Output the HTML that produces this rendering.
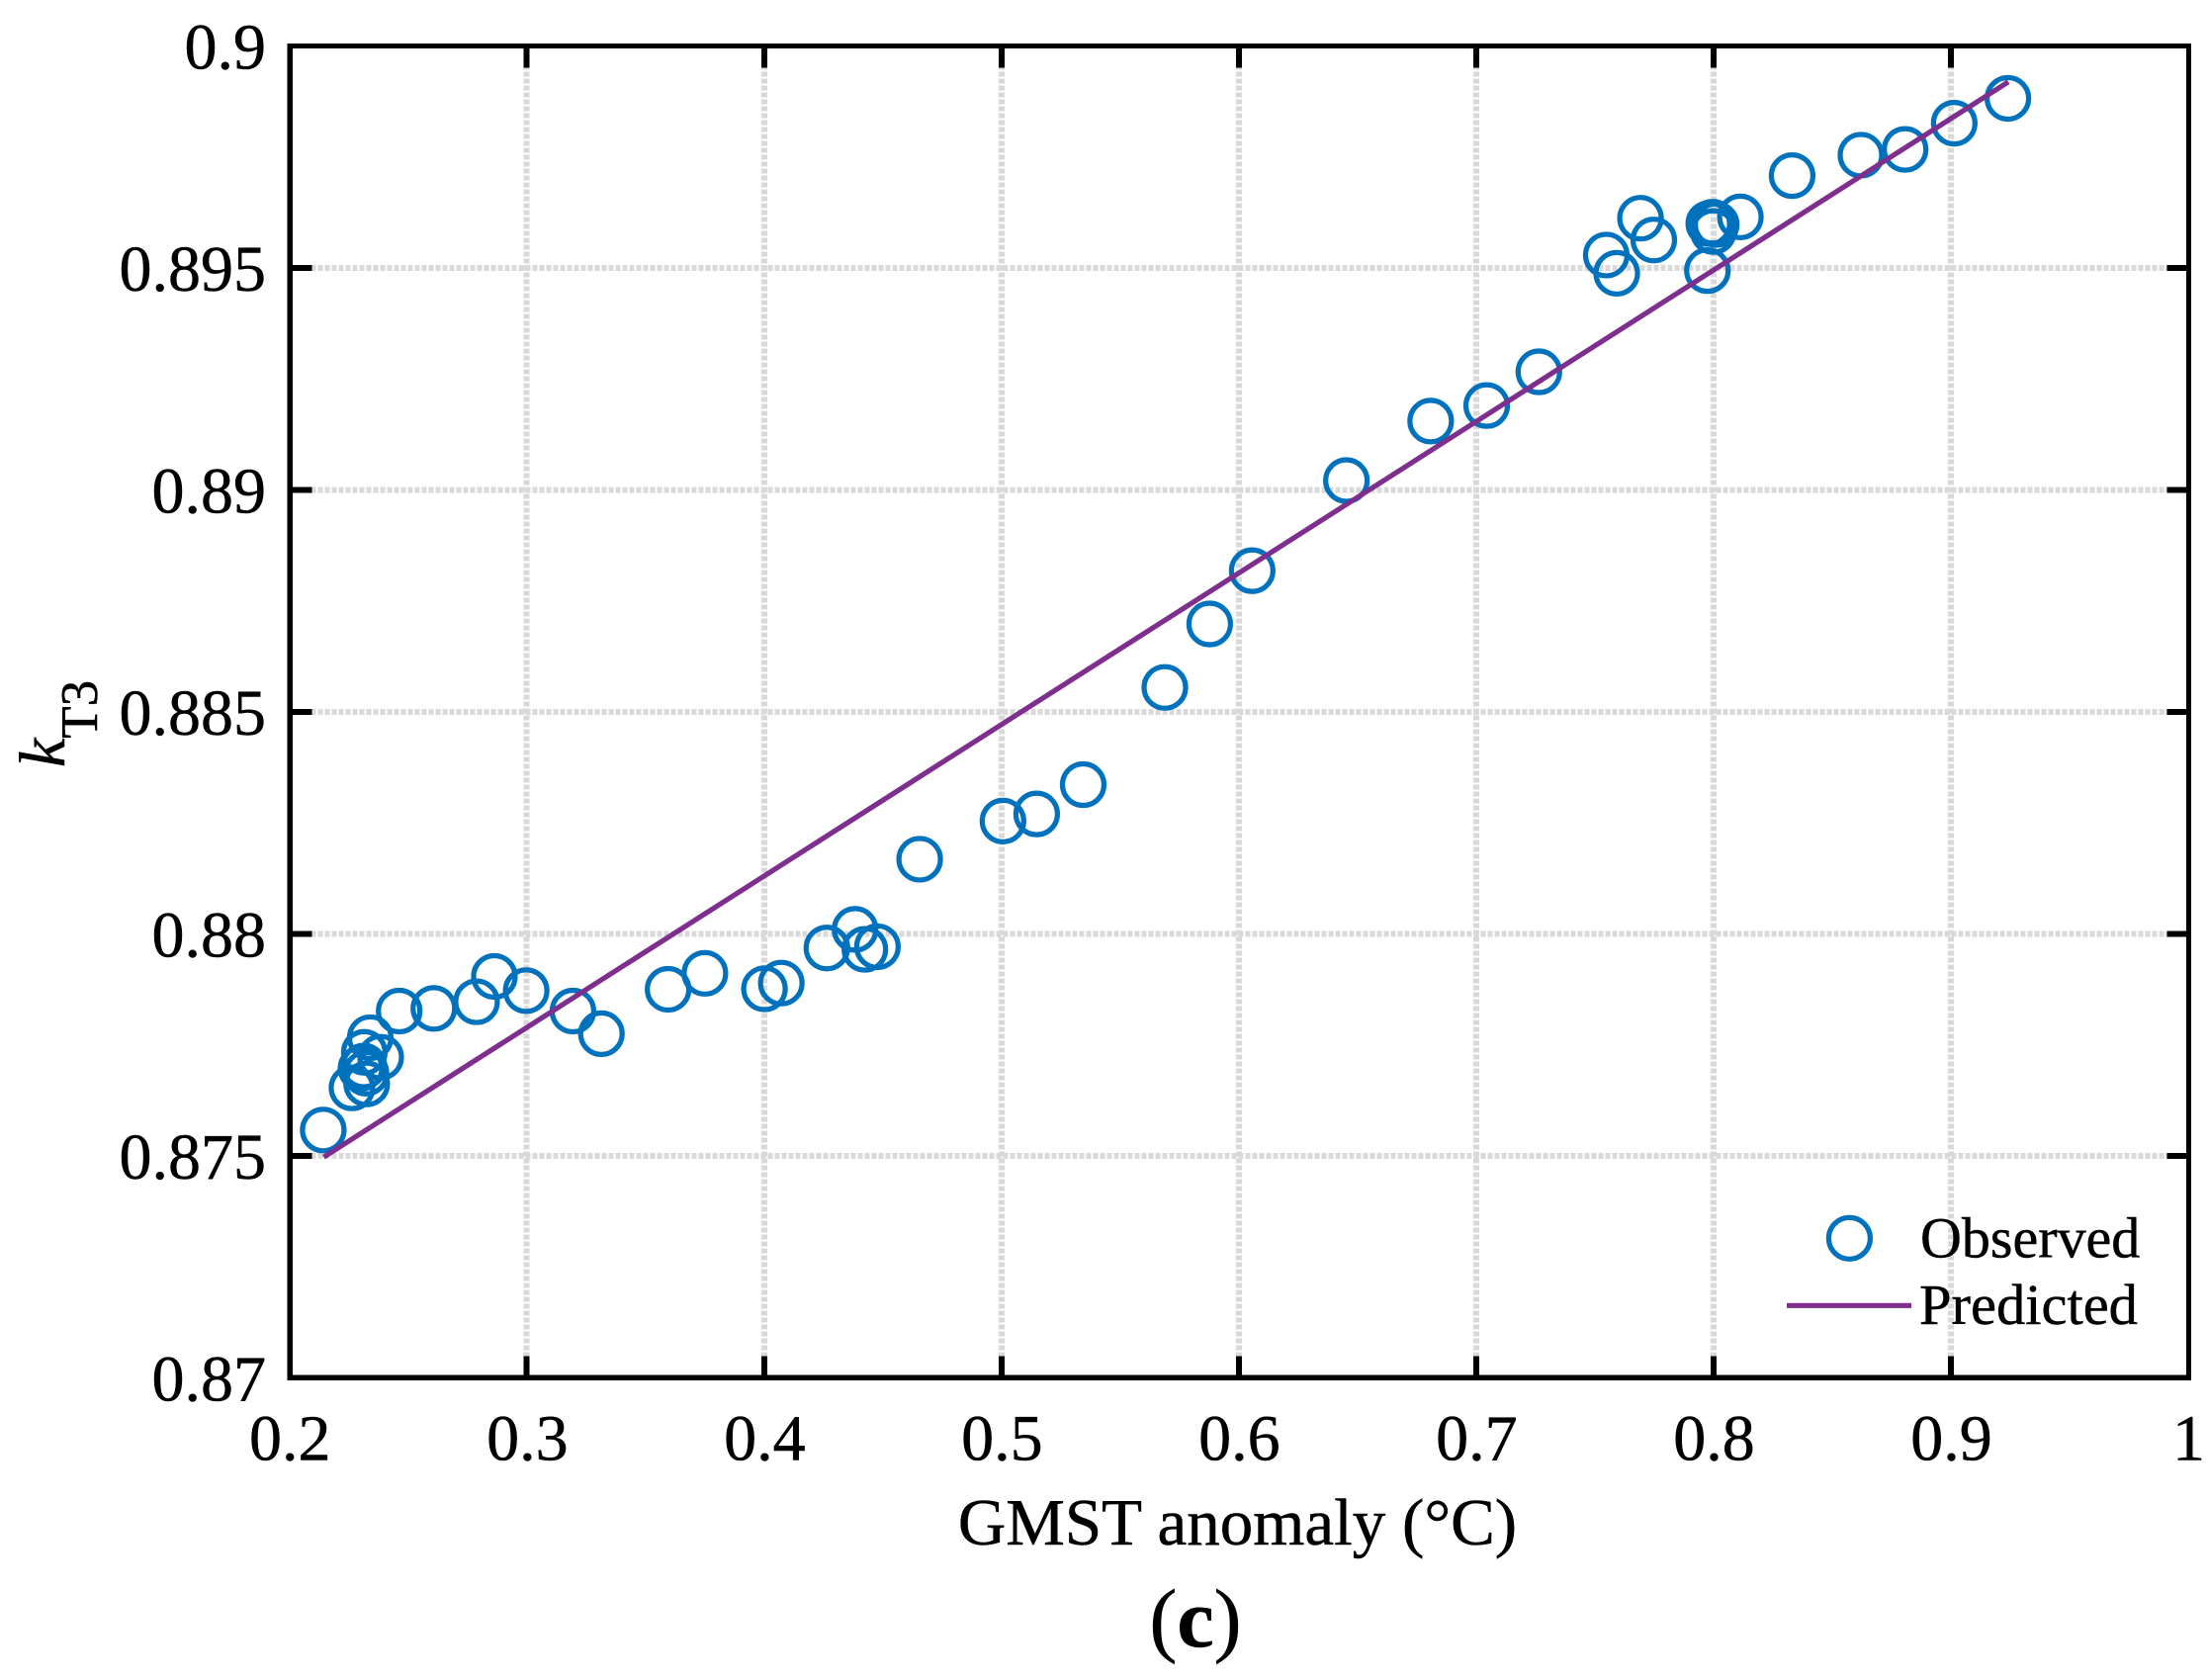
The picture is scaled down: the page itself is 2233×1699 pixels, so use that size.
<!DOCTYPE html>
<html lang="en">
<head>
<meta charset="utf-8">
<title>GMST anomaly vs kT3</title>
<style>
html,body{margin:0;padding:0;background:#fff;}
svg{display:block;position:absolute;left:0;top:0;}
text{font-family:"Liberation Serif","Times New Roman",serif;fill:#000;stroke:#000;stroke-width:0.5px;}
</style>
</head>
<body>
<svg id="chart" xmlns="http://www.w3.org/2000/svg" width="2233" height="1699" viewBox="0 0 2233 1699">
  <rect x="0" y="0" width="2233" height="1699" fill="#ffffff"/>
  <g id="grid" shape-rendering="crispEdges"></g>
  <g id="ticks" shape-rendering="crispEdges"></g>
  <g id="xlabels"></g>
  <g id="ylabels"></g>
  <g id="points"></g>
  <g id="line"></g>
  <rect id="frame" fill="none" stroke="#000" stroke-width="5.4" shape-rendering="crispEdges"/>
  <text x="1251.5" y="1562" font-size="67" text-anchor="middle">GMST anomaly (°C)</text>
  <text transform="translate(65,776) rotate(-90)" font-size="66"><tspan font-style="italic">k</tspan><tspan font-size="53" dy="33">T3</tspan></text>
  <text x="1209" y="1665" font-size="84" text-anchor="middle">(<tspan font-weight="bold">c</tspan>)</text>
  <g>
    <circle cx="1870.4" cy="1252.3" r="21" fill="none" stroke="#0072BD" stroke-width="5.2"/>
    <text x="1942" y="1271.7" font-size="58">Observed</text>
    <line x1="1807" y1="1320.3" x2="1933" y2="1320.3" stroke="#7E2F8E" stroke-width="5.2"/>
    <text x="1941" y="1339" font-size="58.5">Predicted</text>
  </g>
</svg>
<script>
// Axis ranges and tick labels
const xDomain = [0.2, 1];
const yDomain = [0.87, 0.9];
const xTicks = [0.2, 0.3, 0.4, 0.5, 0.6, 0.7, 0.8, 0.9, 1];
const yTicks = [0.87, 0.875, 0.88, 0.885, 0.89, 0.895, 0.9];
const xTickLabels = ['0.2', '0.3', '0.4', '0.5', '0.6', '0.7', '0.8', '0.9', '1'];
const yTickLabels = ['0.87', '0.875', '0.88', '0.885', '0.89', '0.895', '0.9'];

// Observed series
const observedX = [0.2140, 0.2261, 0.2323, 0.2338, 0.2313, 0.2382, 0.2299, 0.2311, 0.2320, 0.2460,
  0.2606, 0.2786, 0.2861, 0.2995, 0.3192, 0.3312, 0.3593, 0.3748, 0.3999, 0.4070,
  0.4262, 0.4381, 0.4422, 0.4475, 0.4653, 0.5004, 0.5146, 0.5342, 0.5686, 0.5875,
  0.6054, 0.6451, 0.6806, 0.7042, 0.7262, 0.7546, 0.7590, 0.7690, 0.7746, 0.7972,
  0.7978, 0.7994, 0.8009, 0.7997, 0.8111, 0.8329, 0.8619, 0.8805, 0.9012, 0.9238];
const observedY = [0.87558, 0.87653, 0.87662, 0.87766, 0.87733, 0.87722, 0.87697, 0.87702, 0.87686, 0.87826,
  0.87832, 0.87847, 0.87904, 0.87872, 0.87826, 0.87775, 0.87875, 0.87911, 0.87876, 0.87889,
  0.87968, 0.88010, 0.87965, 0.87971, 0.88168, 0.88254, 0.88270, 0.88336, 0.88555, 0.88698,
  0.88818, 0.89021, 0.89155, 0.89190, 0.89266, 0.89529, 0.89488, 0.89612, 0.89563, 0.89494,
  0.89600, 0.89603, 0.89598, 0.89582, 0.89615, 0.89708, 0.89754, 0.89767, 0.89826, 0.89882];

// Predicted series
const predictedX = [0.2142, 0.9240];
const predictedY = [0.87497, 0.89919];

const plotLeft = 293.3, plotRight = 2213.5, plotTop = 46.5, plotBottom = 1393.3;
function sx(v) { return plotLeft + (v - xDomain[0]) / (xDomain[1] - xDomain[0]) * (plotRight - plotLeft); }
function sy(v) { return plotBottom - (v - yDomain[0]) / (yDomain[1] - yDomain[0]) * (plotBottom - plotTop); }

const NS = 'http://www.w3.org/2000/svg';
function make(tag, attrs, parent) {
  const el = document.createElementNS(NS, tag);
  for (const k in attrs) el.setAttribute(k, attrs[k]);
  document.getElementById(parent).appendChild(el);
  return el;
}

const frame = document.getElementById('frame');
frame.setAttribute('x', plotLeft);
frame.setAttribute('y', plotTop);
frame.setAttribute('width', plotRight - plotLeft);
frame.setAttribute('height', plotBottom - plotTop);

const TICK = 22;
xTicks.forEach(function (t, i) {
  const x = sx(t);
  if (t !== xDomain[0] && t !== xDomain[1]) {
    const g = make('line', {x1: x - 0.6, x2: x - 0.6, y1: plotBottom, y2: plotTop, stroke: '#d9d9d9', 'stroke-width': 6, 'stroke-dasharray': '5 2'}, 'grid');
    
    
    const a = make('line', {x1: x - 0.6, x2: x - 0.6, y1: plotBottom, y2: plotBottom - TICK, stroke: '#000', 'stroke-width': 6}, 'ticks');
    
    
    const b = make('line', {x1: x - 0.6, x2: x - 0.6, y1: plotTop, y2: plotTop + TICK, stroke: '#000', 'stroke-width': 6}, 'ticks');
    
    
  }
  const l = make('text', {x: x, y: 1476.7, 'font-size': 66, 'text-anchor': 'middle'}, 'xlabels');
  
  
  l.textContent = xTickLabels[i];
});
yTicks.forEach(function (t, i) {
  const y = sy(t);
  if (t !== yDomain[0] && t !== yDomain[1]) {
    const g = make('line', {x1: plotLeft, x2: plotRight, y1: y, y2: y, stroke: '#d9d9d9', 'stroke-width': 6, 'stroke-dasharray': '5 2'}, 'grid');
    
    
    const a = make('line', {x1: plotLeft, x2: plotLeft + TICK, y1: y, y2: y, stroke: '#000', 'stroke-width': 6}, 'ticks');
    
    
    const b = make('line', {x1: plotRight, x2: plotRight - TICK, y1: y, y2: y, stroke: '#000', 'stroke-width': 6}, 'ticks');
    
    
  }
  const l = make('text', {x: 269, y: y + 23, 'font-size': 66, 'text-anchor': 'end'}, 'ylabels');
  
  
  l.textContent = yTickLabels[i];
});

observedX.forEach(function (v, i) {
  const c = make('circle', {cx: sx(v), cy: sy(observedY[i]), r: 21, fill: 'none', stroke: '#0072BD', 'stroke-width': 5.2}, 'points');
  
  
});

const predicted = make('polyline', {
  points: predictedX.map(function (v, i) { return sx(v) + ',' + sy(predictedY[i]); }).join(' '),
  fill: 'none', stroke: '#7E2F8E', 'stroke-width': 5.2
}, 'line');


</script>
</body>
</html>
